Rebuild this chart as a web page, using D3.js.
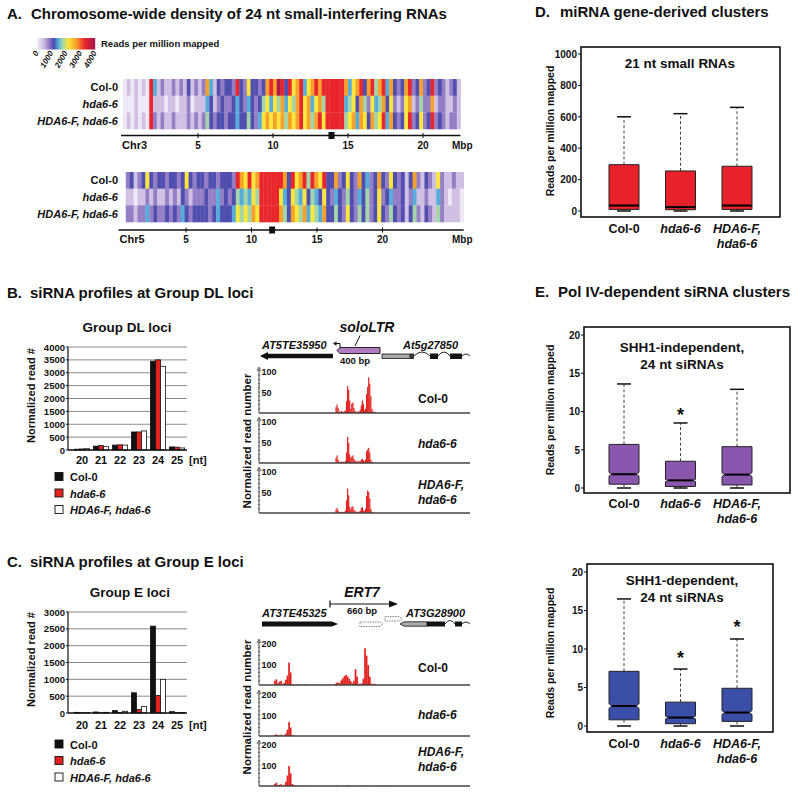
<!DOCTYPE html>
<html>
<head>
<meta charset="utf-8">
<script src="https://cdn.jsdelivr.net/npm/d3@7/dist/d3.min.js"></script>
<style>
html,body{margin:0;padding:0;background:#fff;}
svg{display:block;font-family:"Liberation Sans",Arial,Helvetica,sans-serif;font-weight:bold;}
</style>
</head>
<body>
<svg id="fig" width="800" height="794"></svg>
<script>
// ================= DATA =================
// Panel A: heatmap levels (0-9) per genomic bin, decoded to reads per million
const heatRows = ["Col-0", "hda6-6", "HDA6-F, hda6-6"];
const heatLegendTicks = [0, 1000, 2000, 3000, 4000];
const heatLevelValues = [60, 420, 820, 1130, 1480, 1780, 2150, 2700, 3300, 3900];
const chrTicks = [5, 10, 15, 20];
const chr3BinMbp = 0.25, chr3StartMbp = 0;
const chr3Col0  = "010101084121121213121274132332832633237879838678467878888887467837857847323782372382321231";
const chr3Hda6  = "000100081110110112011143123223432432356465746578674675888884563752645736212671252271221121";
const chr3Hda6F = "010101082121121112121253233233433532467676757678675786888885674763756847323682362382321221";
const chr5BinMbp = 0.3, chr5StartMbp = 0.4;
const chr5Col0  = "23123632332332363233233233328768678888887386785876833723632734237326323137213216211211";
const chr5Hda6  = "11011212112121321222322423235454658888864365463543632432532435236234223124112114210110";
const chr5Hda6F = "22122423223232432333323433346565768888875376574654733532632535236325323135213215211110";
const chr3Centromere = [13.7, 14.1];
const chr5Centromere = [11.35, 11.8];

// Panels B/C: size distributions
const ntSizes = ["20", "21", "22", "23", "24", "25"];
const genotypes = ["Col-0", "hda6-6", "HDA6-F, hda6-6"];
const dlCol0  = [30, 150, 190, 700, 3450, 120];
const dlHda6  = [40, 170, 200, 700, 3500, 110];
const dlHda6F = [50, 130, 190, 740, 3250, 80];
const dlTicks = [0, 500, 1000, 1500, 2000, 2500, 3000, 3500, 4000];
const eCol0  = [20, 30, 70, 600, 2580, 40];
const eHda6  = [5, 5, 10, 100, 520, 10];
const eHda6F = [10, 20, 50, 190, 1000, 15];
const eTicks = [0, 500, 1000, 1500, 2000, 2500, 3000];

// Panels B/C: read profiles (bp from locus start, normalized reads per bin)
const dlReadStart = 720, dlReadStep = 10;
const dlReadsCol0  = [0,14,20,12,4,2,5,3,2,4,6,28,64,55,30,10,22,25,12,5,3,2,4,3,8,18,30,22,6,10,45,62,85,70,40,10,4,2,3];
const dlReadsHda6  = [0,12,18,8,3,2,4,2,3,2,5,25,62,48,20,12,15,18,10,6,4,3,5,3,4,8,10,6,4,8,28,32,36,25,8,3,2,0,0];
const dlReadsHda6F = [0,8,12,6,2,2,3,2,2,3,6,30,58,42,15,8,14,16,8,5,3,2,3,3,5,12,14,6,4,10,40,54,50,35,10,3,2,0,0];
const dlTrackTicks = [50, 100];
const eReadStart = 135, eReadStep = 15;
const eReadsCol0  = [0,20,27,8,16,19,3,10,25,45,106,60,4,2,0,3,0,2,0,0,3,0,2,0,0,2,0,0,3,0,0,2,0,0,2,0,3,0,2,4,10,12,8,22,32,42,48,40,30,18,8,20,75,40,6,5,8,30,175,140,95,40,6,4,6,2];
const eReadsHda6  = [0,5,8,3,4,6,2,3,12,30,66,40,5,2];
const eReadsHda6F = [0,10,16,4,6,8,3,6,20,50,95,60,10,4,2,0,2,0,0,2,0,0,0,2,0,0,0,0,0,2,0,0,0,0,0,0,0,0,0,0,3,0,0,0,0,0,0,3,2,0,0,0,0,0,0,0,0,0,3,0,0,0,2,0,0,0,2,0,0,0,3,0,0,0,2,0,0,0,2,0,0,2];
const eTrackTicks = [100, 200];

// gene models (bp)
const dlTE = [9, 701], dlSoloLTR = [739, 1147], dlGeneUTR = [1166, 1431], dlGeneStart = [1431, 1469];
const dlGeneExons = [[1621, 1697], [1811, 1924]], dlGeneEnd = 2000;
const eTE = [28, 749], eERT7 = [673, 1318], eDashed1 = [957, 1175], eDashed2 = [1194, 1356];
const eGeneUTR = [1337, 1592], eGeneExons = [[1592, 1763], [1858, 1924]], eGeneEnd = 2000;

// Panels D/E: box statistics [min, q1, median, q3, max]
const boxCats = ["Col-0", "hda6-6", "HDA6-F, hda6-6"];
const mirnaStats   = [[0, 10, 35, 295, 600], [0, 8, 25, 255, 620], [0, 10, 35, 285, 660]];
const mirnaTicks = [0, 200, 400, 600, 800, 1000];
const shh1IndStats = [[0, 0.5, 1.8, 5.7, 13.6], [0, 0.2, 1.0, 3.5, 8.5], [0, 0.4, 1.75, 5.4, 12.9]];
const shh1IndNotch = [0.25, 0.15, 0.25];
const shh1DepStats = [[0, 0.8, 2.6, 7.1, 16.5], [0, 0.3, 1.1, 3.1, 7.4], [0, 0.6, 1.75, 4.9, 11.3]];
const shh1DepNotch = [0.3, 0.2, 0.25];
const e5Ticks = [0, 5, 10, 15, 20];
const shh1IndSignif = [[1, 10.1]];
const shh1DepSignif = [[1, 9.3], [2, 13.4]];

// ================= DRAW =================
const svg = d3.select("#fig");
function T(p, x, y, s, o = {}) {
  const t = p.append("text").attr("x", x).attr("y", y).text(s)
    .attr("font-size", o.size || 11)
    .attr("text-anchor", o.anchor || "start")
    .attr("font-weight", o.weight || "bold")
    .attr("fill", o.fill || "#111");
  if (o.italic) t.attr("font-style", "italic");
  if (o.rotate != null) t.attr("transform", `rotate(${o.rotate},${x},${y})`);
  return t;
}
const isItal = s => s !== "Col-0";

// ---- Titles ----
const TS = 15;
T(svg, 7, 19, "A.", {size: TS});
T(svg, 31, 19, "Chromosome-wide density of 24 nt small-interfering RNAs", {size: TS});
T(svg, 7, 298, "B.", {size: TS});
T(svg, 30, 298, "siRNA profiles at Group DL loci", {size: TS});
T(svg, 7, 567, "C.", {size: TS});
T(svg, 30, 567, "siRNA profiles at Group E loci", {size: TS});
T(svg, 535, 17, "D.", {size: TS});
T(svg, 560, 17, "miRNA gene-derived clusters", {size: TS});
T(svg, 535, 297, "E.", {size: TS});
T(svg, 558, 297, "Pol IV-dependent siRNA clusters", {size: TS});

// ---- Panel A ----
const heatColor = d3.scaleLinear()
  .domain([0, 450, 850, 1150, 1500, 1800, 2150, 2700, 3300, 4000])
  .range(["#f4eff9", "#cdbde3", "#8f79c4", "#4b4caf", "#57b3dc", "#a8d7a4", "#fae63c", "#f6a12a", "#e8262b", "#a3164f"])
  .clamp(true);
const cbX = d3.scaleLinear().domain([0, 4000]).range([37, 95]);
svg.append("g").selectAll("rect").data(d3.range(37, 95)).join("rect")
  .attr("x", d => d).attr("y", 38).attr("width", 1.2).attr("height", 11.5)
  .attr("fill", d => heatColor(cbX.invert(d + 0.5)));
T(svg, 101, 46.5, "Reads per million mapped", {size: 9.5});
heatLegendTicks.forEach(t => T(svg, cbX(t) + 2, 53, String(t), {size: 8, italic: true, anchor: "end", rotate: -60}));

function drawChrom(o) {
  const g = svg.append("g");
  const x = d3.scaleLinear().domain([0, o.scaleMax]).range([o.x0, o.x0 + o.scaleMax * o.pxPerMbp]);
  const y = d3.scaleBand().domain(heatRows).range([o.top, o.bottom]);
  const bw = x(o.bin) - x(0);
  o.rows.forEach((str, r) => {
    const levels = str.split("").map(Number);
    g.append("g").selectAll("rect").data(levels).join("rect")
      .attr("x", (d, i) => x(o.start + i * o.bin)).attr("width", bw + 0.35)
      .attr("y", y(heatRows[r])).attr("height", y.bandwidth() + 0.3)
      .attr("fill", d => heatColor(heatLevelValues[d]));
    T(g, 118, y(heatRows[r]) + y.bandwidth() / 2 + 4, heatRows[r], {size: 11, anchor: "end", italic: r > 0});
  });
  const n = o.rows[0].length;
  const xEnd = x(o.start + n * o.bin);
  g.append("line").attr("x1", x(0) - 2).attr("x2", xEnd).attr("y1", o.axisY).attr("y2", o.axisY)
    .attr("stroke", "#111").attr("stroke-width", 1.3);
  chrTicks.forEach(t => {
    g.append("line").attr("x1", x(t)).attr("x2", x(t)).attr("y1", o.axisY - 2.5).attr("y2", o.axisY + 2.5)
      .attr("stroke", "#111").attr("stroke-width", 1);
    T(g, x(t), o.axisY + 13, String(t), {size: 10, anchor: "middle"});
  });
  g.append("rect").attr("x", x(o.cen[0])).attr("width", x(o.cen[1]) - x(o.cen[0]))
    .attr("y", o.axisY - 3.5).attr("height", 7).attr("fill", "#111");
  T(g, x(0) - 1, o.axisY + 13, o.name, {size: 11});
  T(g, 452, o.axisY + 13, "Mbp", {size: 10});
}
drawChrom({rows: [chr3Col0, chr3Hda6, chr3Hda6F], bin: chr3BinMbp, start: chr3StartMbp, scaleMax: 25,
  x0: 123, pxPerMbp: 15, top: 79, bottom: 129, axisY: 135.5, cen: chr3Centromere, name: "Chr3"});
drawChrom({rows: [chr5Col0, chr5Hda6, chr5Hda6F], bin: chr5BinMbp, start: chr5StartMbp, scaleMax: 27,
  x0: 120.5, pxPerMbp: 13.1, top: 172, bottom: 222, axisY: 230, cen: chr5Centromere, name: "Chr5"});

// ---- Bar charts B/C ----
const barFill = ["#111", "#e3211f", "#fff"];
function drawBars(o) {
  const g = svg.append("g");
  const x = d3.scaleBand().domain(ntSizes).range([72.5, 186.5]).paddingInner(0.2).paddingOuter(0.1);
  const xs = d3.scaleBand().domain(d3.range(3)).range([0, x.bandwidth()]);
  const y = d3.scaleLinear().domain([0, o.max]).range([o.y0, o.yTop]);
  T(g, o.titleX, o.titleY, o.title, {size: 13.5, anchor: "middle"});
  o.ticks.forEach(t => {
    if (t > 0) g.append("line").attr("x1", 68).attr("x2", 187).attr("y1", y(t)).attr("y2", y(t))
      .attr("stroke", "#8a8a8a").attr("stroke-width", 1);
    g.append("line").attr("x1", 66).attr("x2", 68).attr("y1", y(t)).attr("y2", y(t)).attr("stroke", "#111");
    T(g, 65, y(t) + 3.5, String(t), {size: 9.5, anchor: "end"});
  });
  o.series.forEach((vals, s) => {
    g.append("g").selectAll("rect").data(vals).join("rect")
      .attr("x", (d, i) => x(ntSizes[i]) + xs(s)).attr("width", xs.bandwidth())
      .attr("y", d => y(d)).attr("height", d => o.y0 - y(d))
      .attr("fill", barFill[s]).attr("stroke", "#111").attr("stroke-width", 0.8);
  });
  g.append("line").attr("x1", 68).attr("x2", 68).attr("y1", o.y0).attr("y2", o.yTop).attr("stroke", "#111").attr("stroke-width", 1.2);
  g.append("line").attr("x1", 68).attr("x2", 187).attr("y1", o.y0).attr("y2", o.y0).attr("stroke", "#111").attr("stroke-width", 1.4);
  ntSizes.forEach(c => T(g, x(c) + x.bandwidth() / 2, o.y0 + o.labOff, c, {size: 11, anchor: "middle"}));
  T(g, 189, o.y0 + o.labOff, "[nt]", {size: 11});
  T(g, 35, (o.y0 + o.yTop) / 2 - 3, "Normalized read #", {size: 11, anchor: "middle", rotate: -90});
  genotypes.forEach((gname, s) => {
    const cy = o.legY + s * 16.5;
    g.append("rect").attr("x", 55).attr("y", cy - 4.5).attr("width", 8).attr("height", 8)
      .attr("fill", barFill[s]).attr("stroke", "#111").attr("stroke-width", 0.9);
    T(g, 70, cy + 4, gname, {size: 11, italic: s > 0});
  });
}
drawBars({title: "Group DL loci", titleX: 127, titleY: 332, max: 4000, y0: 450, yTop: 347, ticks: dlTicks,
  series: [dlCol0, dlHda6, dlHda6F], legY: 477, labOff: 13.5});
drawBars({title: "Group E loci", titleX: 130, titleY: 597, max: 3000, y0: 713, yTop: 612, ticks: eTicks,
  series: [eCol0, eHda6, eHda6F], legY: 744.5, labOff: 16});

// ---- Read tracks B/C ----
const trackX = d3.scaleLinear().domain([0, 2000]).range([259, 470]);
function drawTracks(o) {
  const g = svg.append("g");
  o.bases.forEach((base, k) => {
    const y = d3.scaleLinear().domain([0, o.yMax]).range([base, base - 42]);
    const w = Math.max(1.2, trackX(o.step) - trackX(0) + 0.15);
    g.append("g").selectAll("rect").data(o.reads[k]).join("rect")
      .attr("x", (d, i) => trackX(o.start + i * o.step) - w / 2).attr("width", w)
      .attr("y", d => y(d)).attr("height", d => base - y(d)).attr("fill", "#e3221f");
    g.append("line").attr("x1", 259).attr("x2", 470).attr("y1", base).attr("y2", base)
      .attr("stroke", "#444").attr("stroke-width", 1.6);
    const top = y(o.yMax);
    g.append("line").attr("x1", 259).attr("x2", 259).attr("y1", base).attr("y2", top - 3)
      .attr("stroke", "#444").attr("stroke-width", 1);
    g.append("path").attr("d", `M257,${top} L259,${top - 4} L261,${top}`).attr("fill", "none").attr("stroke", "#444").attr("stroke-width", 0.8);
    g.append("g").selectAll("line").data(d3.range(o.minor, o.yMax + 0.01, o.minor)).join("line")
      .attr("x1", 257.8).attr("x2", 260.2).attr("y1", d => y(d)).attr("y2", d => y(d))
      .attr("stroke", "#555").attr("stroke-width", 0.7);
    o.ticks.forEach(v => T(g, 261.5, y(v) + 3.5, String(v), {size: 9}));
    o.names[k].forEach((line, j) => T(g, 418, o.nameY[k] + j * 15, line, {size: 12, italic: line !== "Col-0"}));
  });
  T(g, 251, o.labelCy, "Normalized read number", {size: 11.5, anchor: "middle", rotate: -90});
}
drawTracks({bases: [413, 463, 513], yMax: 100, minor: 10, ticks: dlTrackTicks, start: dlReadStart, step: dlReadStep,
  reads: [dlReadsCol0, dlReadsHda6, dlReadsHda6F],
  names: [["Col-0"], ["hda6-6"], ["HDA6-F,", "hda6-6"]], nameY: [403, 448, 489], labelCy: 441});
drawTracks({bases: [685, 736, 786], yMax: 200, minor: 20, ticks: eTrackTicks, start: eReadStart, step: eReadStep,
  reads: [eReadsCol0, eReadsHda6, eReadsHda6F],
  names: [["Col-0"], ["hda6-6"], ["HDA6-F,", "hda6-6"]], nameY: [672, 719, 756], labelCy: 707});

// gene model B
(function () {
  const g = svg.append("g");
  const X = trackX;
  const y0 = 356, h = 2.2;
  g.append("path").attr("d", `M${X(dlTE[1])},${y0 - h} L${X(dlTE[0]) + 8},${y0 - h} L${X(dlTE[0]) + 8},${y0 - 4} L${X(dlTE[0])},${y0} L${X(dlTE[0]) + 8},${y0 + 4} L${X(dlTE[0]) + 8},${y0 + h} L${X(dlTE[1])},${y0 + h} Z`).attr("fill", "#111");
  T(g, 262, 349, "AT5TE35950", {size: 11, italic: true});
  g.append("path").attr("d", "M340,350 V343.5 H335.5").attr("fill", "none").attr("stroke", "#111").attr("stroke-width", 1);
  g.append("path").attr("d", "M333,343.5 L336.5,341.3 L336.5,345.7 Z").attr("fill", "#111");
  const a = X(dlSoloLTR[0]), b = X(dlSoloLTR[1]);
  g.append("path").attr("d", `M${a},350.5 L${a + 3},347.5 L${b},347.5 L${b},353.5 L${a + 3},353.5 Z`)
    .attr("fill", "#b27cc2").attr("stroke", "#111").attr("stroke-width", 0.9);
  T(g, 367, 332, "soloLTR", {size: 14, italic: true, anchor: "middle"});
  g.append("line").attr("x1", 360).attr("y1", 335.5).attr("x2", 355).attr("y2", 346).attr("stroke", "#111").attr("stroke-width", 1);
  T(g, 355, 363.5, "400 bp", {size: 9.5, anchor: "middle"});
  g.append("rect").attr("x", X(dlGeneUTR[0])).attr("y", 354).attr("width", X(dlGeneUTR[1]) - X(dlGeneUTR[0])).attr("height", 4.5)
    .attr("fill", "#aaa").attr("stroke", "#111").attr("stroke-width", 0.8);
  g.append("rect").attr("x", X(dlGeneStart[0])).attr("y", 353.5).attr("width", X(dlGeneStart[1]) - X(dlGeneStart[0])).attr("height", 5.5).attr("fill", "#333");
  let prev = X(dlGeneStart[1]);
  dlGeneExons.forEach(e => {
    const s = X(e[0]);
    g.append("path").attr("d", `M${prev},356 Q${(prev + s) / 2},348 ${s},356`).attr("fill", "none").attr("stroke", "#111").attr("stroke-width", 0.9);
    g.append("rect").attr("x", s).attr("y", 353.5).attr("width", X(e[1]) - s).attr("height", 5.5).attr("fill", "#111");
    prev = X(e[1]);
  });
  g.append("path").attr("d", `M${prev},356 Q${(prev + X(dlGeneEnd)) / 2},352 ${X(dlGeneEnd)},356`).attr("fill", "none").attr("stroke", "#111").attr("stroke-width", 0.9);
  T(g, 403, 349, "At5g27850", {size: 11, italic: true});
})();

// gene model C
(function () {
  const g = svg.append("g");
  const X = trackX;
  const y0 = 624, h = 2.4;
  const a = X(eTE[0]), b = X(eTE[1]);
  g.append("path").attr("d", `M${a},${y0 - h} L${b - 6},${y0 - h} L${b},${y0} L${b - 6},${y0 + h} L${a},${y0 + h} Z`).attr("fill", "#111");
  T(g, 262, 617, "AT3TE45325", {size: 11, italic: true});
  const e0 = X(eERT7[0]), e1 = X(eERT7[1]);
  g.append("line").attr("x1", e0).attr("x2", e1 - 7).attr("y1", 604).attr("y2", 604).attr("stroke", "#111").attr("stroke-width", 1.2);
  g.append("line").attr("x1", e0).attr("x2", e0).attr("y1", 600.5).attr("y2", 607.5).attr("stroke", "#111").attr("stroke-width", 1.2);
  g.append("path").attr("d", `M${e1},604 L${e1 - 9},600.5 L${e1 - 9},607.5 Z`).attr("fill", "#111");
  T(g, 362, 597, "ERT7", {size: 14, italic: true, anchor: "middle"});
  T(g, 362, 614, "660 bp", {size: 9.5, anchor: "middle"});
  [[eDashed1, 622], [eDashed2, 616.5]].forEach(([d, yy]) => {
    const p = X(d[0]), q = X(d[1]);
    g.append("path").attr("d", `M${p},${yy} L${q - 3},${yy} L${q},${yy + 2.25} L${q - 3},${yy + 4.5} L${p},${yy + 4.5} Z`)
      .attr("fill", "none").attr("stroke", "#666").attr("stroke-width", 0.8).attr("stroke-dasharray", "1.5,1");
  });
  const u0 = X(eGeneUTR[0]), u1 = X(eGeneUTR[1]);
  g.append("path").attr("d", `M${u0},624 L${u0 + 4},621.8 L${u1},621.8 L${u1},626.2 L${u0 + 4},626.2 Z`)
    .attr("fill", "#aaa").attr("stroke", "#111").attr("stroke-width", 0.8);
  let prev = u1;
  eGeneExons.forEach((e, i) => {
    const s = X(e[0]);
    if (i > 0) g.append("path").attr("d", `M${prev},624 Q${(prev + s) / 2},617 ${s},624`).attr("fill", "none").attr("stroke", "#111").attr("stroke-width", 0.9);
    g.append("rect").attr("x", s).attr("y", 621.5).attr("width", X(e[1]) - s).attr("height", 5).attr("fill", "#111");
    prev = X(e[1]);
  });
  g.append("path").attr("d", `M${prev},624 Q${(prev + X(eGeneEnd)) / 2},620 ${X(eGeneEnd)},624`).attr("fill", "none").attr("stroke", "#111").attr("stroke-width", 0.9);
  T(g, 406, 617, "AT3G28900", {size: 11, italic: true});
})();

// ---- Box plots D/E ----
function drawBox(o) {
  const g = svg.append("g");
  const y = d3.scaleLinear().domain([0, o.max]).range([o.y0, o.yTop]);
  const x = d3.scalePoint().domain(boxCats).range([624, 737]);
  o.ticks.forEach(t => {
    g.append("line").attr("x1", o.fx - 3).attr("x2", o.fx).attr("y1", y(t)).attr("y2", y(t)).attr("stroke", "#111");
    T(g, o.fx - 4, y(t) + 3.8, String(t), {size: 10, anchor: "end"});
  });
  T(g, 554, o.labelCy, "Reads per million mapped", {size: 10.5, anchor: "middle", rotate: -90});
  o.title.forEach((s, j) => T(g, o.titleX, o.titleY + j * 17, s, {size: 13.5, anchor: "middle"}));
  o.stats.forEach((st, i) => {
    const cx = x(boxCats[i]);
    const [mn, q1, md, q3, mx] = st;
    const w = 15, nt = o.notch ? o.notch[i] : 0, ind = nt > 0 ? 2.8 : 0;
    [[q3, mx], [q1, mn]].forEach(([a, b]) => {
      g.append("line").attr("x1", cx).attr("x2", cx).attr("y1", y(a)).attr("y2", y(b))
        .attr("stroke", "#444").attr("stroke-width", 1).attr("stroke-dasharray", "3,2.2");
      g.append("line").attr("x1", cx - 7).attr("x2", cx + 7).attr("y1", y(b)).attr("y2", y(b))
        .attr("stroke", "#111").attr("stroke-width", 1.5);
    });
    const nlo = y(Math.max(q1, md - nt)), nhi = y(Math.min(q3, md + nt)), ym = y(md);
    g.append("path").attr("d",
      `M${cx - w},${y(q1)} L${cx - w},${nlo} L${cx - w + ind},${ym} L${cx - w},${nhi} L${cx - w},${y(q3)} ` +
      `L${cx + w},${y(q3)} L${cx + w},${nhi} L${cx + w - ind},${ym} L${cx + w},${nlo} L${cx + w},${y(q1)} Z`)
      .attr("fill", o.fill).attr("stroke", "#222").attr("stroke-width", 1);
    g.append("line").attr("x1", cx - w + ind).attr("x2", cx + w - ind).attr("y1", ym).attr("y2", ym)
      .attr("stroke", "#000").attr("stroke-width", 2);
    const lines = boxCats[i] === "HDA6-F, hda6-6" ? ["HDA6-F,", "hda6-6"] : [boxCats[i]];
    lines.forEach((s, j) => T(g, cx, o.catY + j * 15, s, {size: 12.5, anchor: "middle", italic: isItal(boxCats[i])}));
  });
  (o.signif || []).forEach(([i, v]) => T(g, x(boxCats[i]), y(v) + 10, "*", {size: 18, anchor: "middle"}));
  g.append("rect").attr("x", o.fx).attr("y", o.fy).attr("width", o.fw).attr("height", o.fh)
    .attr("fill", "none").attr("stroke", "#111").attr("stroke-width", 1.6);
}
drawBox({max: 1000, y0: 211, yTop: 54, ticks: mirnaTicks, fx: 581, fy: 47, fw: 199, fh: 170, labelCy: 131,
  title: ["21 nt small RNAs"], titleX: 680, titleY: 68, stats: mirnaStats, fill: "#e8212a", catY: 233});
drawBox({max: 20, y0: 488, yTop: 335, ticks: e5Ticks, fx: 584, fy: 327, fw: 206, fh: 166, labelCy: 410,
  title: ["SHH1-independent,", "24 nt siRNAs"], titleX: 682, titleY: 352, stats: shh1IndStats, notch: shh1IndNotch,
  fill: "#8a56ae", catY: 508, signif: shh1IndSignif});
drawBox({max: 20, y0: 726, yTop: 572, ticks: e5Ticks, fx: 587, fy: 564, fw: 186, fh: 168, labelCy: 653,
  title: ["SHH1-dependent,", "24 nt siRNAs"], titleX: 682, titleY: 585, stats: shh1DepStats, notch: shh1DepNotch,
  fill: "#3b4fa8", catY: 748, signif: shh1DepSignif});
</script>
</body>
</html>
